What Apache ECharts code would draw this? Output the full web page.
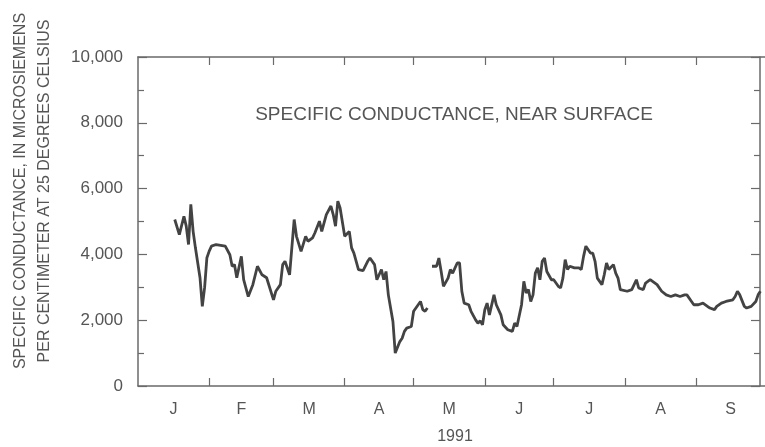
<!DOCTYPE html>
<html>
<head>
<meta charset="utf-8">
<script src="https://cdn.jsdelivr.net/npm/echarts@6/dist/echarts.min.js"></script>
<style>
html,body{margin:0;padding:0;background:#fff;}
#chart{width:765px;height:447px;}
</style>
</head>
<body>
<div id="chart"></div>
<script>
// ---- data ----
const dates = [
'1991-01-17','1991-01-19','1991-01-21','1991-01-22','1991-01-23','1991-01-24','1991-01-25','1991-01-26','1991-01-28','1991-01-29','1991-01-30','1991-01-31',
'1991-02-01','1991-02-02','1991-02-04','1991-02-08','1991-02-10','1991-02-11','1991-02-12','1991-02-13','1991-02-15','1991-02-16','1991-02-18','1991-02-20','1991-02-22','1991-02-24','1991-02-26',
'1991-03-01','1991-03-02','1991-03-04','1991-03-05','1991-03-06','1991-03-08','1991-03-10','1991-03-11','1991-03-13','1991-03-15','1991-03-16','1991-03-18','1991-03-19','1991-03-21','1991-03-22','1991-03-24','1991-03-26','1991-03-27','1991-03-28','1991-03-29','1991-03-30',
'1991-04-01','1991-04-03','1991-04-04','1991-04-05','1991-04-07','1991-04-09','1991-04-11','1991-04-12','1991-04-14','1991-04-15','1991-04-17','1991-04-18','1991-04-19','1991-04-20','1991-04-22','1991-04-23','1991-04-25','1991-04-26','1991-04-27','1991-04-28','1991-04-30',
'1991-05-01','1991-05-03','1991-05-04','1991-05-05','1991-05-06','1991-05-07','1991-05-08','1991-05-09','1991-05-11','1991-05-12','1991-05-13','1991-05-14','1991-05-16','1991-05-17','1991-05-18','1991-05-20','1991-05-21','1991-05-22','1991-05-23','1991-05-25','1991-05-26','1991-05-28','1991-05-29','1991-05-30','1991-05-31',
'1991-06-01','1991-06-02','1991-06-03','1991-06-05','1991-06-06','1991-06-08','1991-06-09','1991-06-11','1991-06-13','1991-06-14','1991-06-15','1991-06-17','1991-06-18','1991-06-19','1991-06-20','1991-06-21','1991-06-22','1991-06-23','1991-06-24','1991-06-25','1991-06-26','1991-06-27','1991-06-28','1991-06-30',
'1991-07-01','1991-07-03','1991-07-04','1991-07-05','1991-07-06','1991-07-07','1991-07-08','1991-07-10','1991-07-12','1991-07-13','1991-07-14','1991-07-15','1991-07-17','1991-07-18','1991-07-19','1991-07-20','1991-07-22','1991-07-23','1991-07-24','1991-07-25','1991-07-27','1991-07-28','1991-07-29','1991-07-30',
'1991-08-02','1991-08-04','1991-08-06','1991-08-07','1991-08-09','1991-08-10','1991-08-12','1991-08-15','1991-08-17','1991-08-19','1991-08-21','1991-08-23','1991-08-25','1991-08-27','1991-08-28','1991-08-30','1991-08-31',
'1991-09-02','1991-09-04','1991-09-07','1991-09-09','1991-09-10','1991-09-12','1991-09-14','1991-09-17','1991-09-18','1991-09-19','1991-09-20','1991-09-22','1991-09-23','1991-09-25','1991-09-27','1991-09-28','1991-09-29'
];
const conductance = [
5060,4600,5160,4860,4300,5520,4700,4200,3290,2420,2990,3900,
4100,4250,4300,4250,3990,3640,3690,3290,3940,3230,2720,3080,3640,3380,3290,
2620,2880,3080,3690,3790,3380,5060,4550,4090,4550,4400,4500,4650,5010,4700,5210,5470,5210,4860,5620,5410,
4550,4700,4200,4040,3540,3510,3790,3890,3690,3230,3540,3230,3480,2770,1960,1000,1350,1450,1660,1760,1810,
2270,2470,2570,2320,2270,2370,null,3640,3640,3890,3480,3030,3280,3540,3430,3740,3740,2880,2520,2470,2270,2010,1910,1980,1860,
2320,2520,2160,2770,2470,2160,1860,1710,1660,1910,1810,2470,3180,2830,2930,2570,2770,3430,3590,3230,3790,3890,3480,3230,
3230,3030,2980,3280,3840,3540,3640,3590,3590,3540,3940,4250,4040,4040,3790,3280,3080,3380,3740,3540,3690,3430,3280,2930,
2880,2930,3230,2980,2930,3130,3230,3080,2880,2770,2720,2770,2720,2770,2770,2570,2470,
2470,2520,2370,2320,2420,2520,2570,2620,2720,2880,2770,2420,2370,2420,2570,2770,2880
];
const monthLetters = ['J','F','M','A','M','J','J','A','S'];
const monthStarts = ['1991-01-01','1991-02-01','1991-03-01','1991-04-01','1991-05-01','1991-06-01','1991-07-01','1991-08-01','1991-09-01','1991-10-01'];
const yTicks = [0,2000,4000,6000,8000,10000];
const yearLabel = '1991';
const annotation = 'SPECIFIC CONDUCTANCE, NEAR SURFACE';
const yNameLines = ['SPECIFIC CONDUCTANCE, IN MICROSIEMENS','PER CENTIMETER AT 25 DEGREES CELSIUS'];

// ---- build ----
const toMs = d => Date.UTC(+d.slice(0,4), +d.slice(5,7) - 1, +d.slice(8,10));
const startMs = monthStarts.map(toMs);
const tickMs = startMs.slice(1, startMs.length - 1);
const midMs = [];
for (let i = 0; i < monthLetters.length; i++) midMs.push((startMs[i] + startMs[i + 1]) / 2);
const seriesData = dates.map((d, i) => [toMs(d), conductance[i]]);

const FONT = "'Liberation Sans', Arial, sans-serif";
const TXT = '#555';
const AX = '#6a6a6a';

function monthFormatter(v) {
  let best = 0, bd = Infinity;
  midMs.forEach((m, i) => { const dd = Math.abs(m - v); if (dd < bd) { bd = dd; best = i; } });
  return monthLetters[best];
}

const chart = echarts.init(document.getElementById('chart'), null, {renderer: 'canvas'});
chart.setOption({
  animation: false,
  backgroundColor: '#fff',
  grid: {left: 138, right: -9, top: 57, bottom: 61, containLabel: false},
  xAxis: [{
    type: 'value', min: startMs[0], max: startMs[startMs.length - 1], position: 'bottom',
    axisLine: {show: true, onZero: false, lineStyle: {color: AX, width: 1.5}},
    axisTick: {show: true, inside: true, length: 8, customValues: tickMs, lineStyle: {color: AX, width: 1.2}},
    axisLabel: {show: true, customValues: midMs, margin: 16, color: TXT, fontFamily: FONT, fontSize: 16, formatter: monthFormatter},
    splitLine: {show: false}
  }, {
    type: 'value', min: startMs[0], max: startMs[startMs.length - 1], position: 'top',
    axisLine: {show: true, onZero: false, lineStyle: {color: AX, width: 1.5}},
    axisTick: {show: true, inside: true, length: 8, customValues: tickMs, lineStyle: {color: AX, width: 1.2}},
    axisLabel: {show: false},
    splitLine: {show: false}
  }],
  yAxis: [{
    type: 'value', min: yTicks[0], max: yTicks[yTicks.length - 1], interval: 2000, position: 'left',
    axisLine: {show: true, onZero: false, lineStyle: {color: AX, width: 1.5}},
    axisTick: {show: true, inside: true, length: 9, lineStyle: {color: AX, width: 1.2}},
    minorTick: {show: true, splitNumber: 2, length: 6, lineStyle: {color: AX, width: 1.2}},
    axisLabel: {margin: 15, color: TXT, fontFamily: FONT, fontSize: 17, formatter: v => v.toLocaleString('en-US')},
    splitLine: {show: false}
  }, {
    type: 'value', min: yTicks[0], max: yTicks[yTicks.length - 1], interval: 2000, position: 'right', offset: -5,
    axisLine: {show: true, onZero: false, lineStyle: {color: AX, width: 1.5}},
    axisTick: {show: true, inside: true, length: 9, lineStyle: {color: AX, width: 1.2}},
    minorTick: {show: true, splitNumber: 2, length: 6, lineStyle: {color: AX, width: 1.2}},
    axisLabel: {show: false},
    splitLine: {show: false}
  }],
  series: [{
    type: 'line', xAxisIndex: 0, yAxisIndex: 0, data: seriesData,
    showSymbol: false, connectNulls: false,
    lineStyle: {color: '#434343', width: 2.8},
    itemStyle: {color: '#434343'}
  }],
  graphic: [
    {type: 'text', x: 454, y: 115, style: {text: annotation, fill: TXT, font: '19px ' + FONT, align: 'center', verticalAlign: 'middle'}},
    {type: 'text', x: 455, y: 437, style: {text: yearLabel, fill: TXT, font: '16px ' + FONT, align: 'center', verticalAlign: 'middle'}},
    {type: 'text', x: 21, y: 191, rotation: Math.PI / 2, style: {text: yNameLines[0], fill: TXT, font: '16px ' + FONT, align: 'center', verticalAlign: 'middle'}},
    {type: 'text', x: 45, y: 191, rotation: Math.PI / 2, style: {text: yNameLines[1], fill: TXT, font: '16px ' + FONT, align: 'center', verticalAlign: 'middle'}}
  ]
});
</script>
</body>
</html>
